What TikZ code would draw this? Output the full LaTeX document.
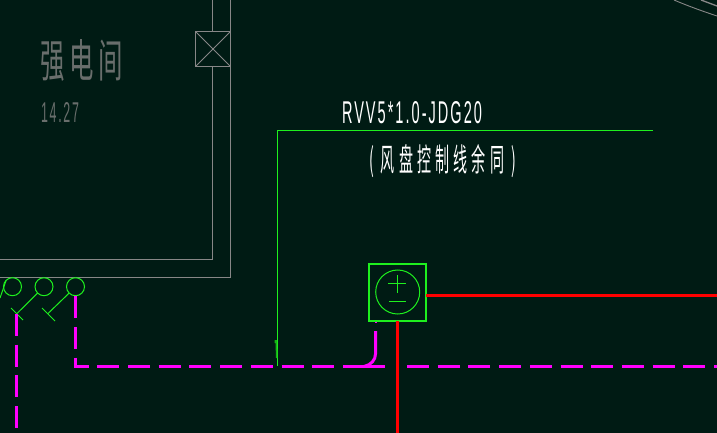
\documentclass[tikz,border=0pt]{standalone}
\usepackage{graphicx}
\usepackage{fontspec}
\setmainfont{Liberation Sans}
\newfontfamily\cjk{Noto Sans CJK SC}
\newfontfamily\spaced[LetterSpace=14]{Liberation Sans}
\definecolor{bgc}{RGB}{0,27,20}
\definecolor{wallc}{RGB}{135,135,135}
\definecolor{textc}{RGB}{105,110,108}
\definecolor{devc}{RGB}{30,240,30}
\definecolor{magc}{RGB}{255,0,255}
\tikzset{
  x=1pt,y=-1pt,
  wall/.style={draw=wallc,line width=0.9pt},
  dev/.style={draw=devc,line width=1pt},
  magline/.style={draw=magc,line width=3pt,dash pattern=on 22pt off 8.7pt},
  magsolid/.style={draw=magc,line width=3pt},
  redline/.style={draw=red,line width=3pt},
  lamp/.style={circle,draw=devc,line width=1pt,inner sep=0pt,minimum size=18pt},
  lbl/.style={inner sep=0pt,outer sep=0pt,anchor=north west},
}
\newcommand{\fit}[3]{\resizebox{#1pt}{#2pt}{#3}}
\begin{document}
\begin{tikzpicture}
\useasboundingbox (0,0) rectangle (717,433);
\fill[bgc] (0,0) rectangle (717,433);
% walls
\draw[wall] (212.5,0) -- (212.5,31.5);
\draw[wall] (212.5,66.5) -- (212.5,259.5) -- (0,259.5);
\draw[wall] (230.5,0) -- (230.5,277.5) -- (0,277.5);
\node[wall,minimum size=35pt,inner sep=0pt,outer sep=0pt] (shaft) at (213,49) {};
\draw[wall] (shaft.north west) -- (shaft.south east);
\draw[wall] (shaft.north east) -- (shaft.south west);
% arcs top right
\draw[wall] (674,0) .. controls (688,6) and (702,11) .. (717,16);
\draw[wall,line width=1.3pt] (701,0) -- (717,6);
% labels
\node[lbl,text=textc,font=\cjk] (room) at (40,39) {\fit{83}{38}{强\hspace{0.2em}电\hspace{0.2em}间}};
\node[lbl,text=textc,font=\spaced] (area) at (41,103) {\fit{38}{20}{14.27}};
\node[lbl,text=white,font=\spaced] (cable) at (342,101) {\fit{140}{22}{RVV5*1.0-JDG20}};
\node[lbl,text=white,font=\cjk] (note) at (369,144) {\fit{147}{27}{(\hspace{0.5em}风\hspace{0.3em}盘\hspace{0.3em}控\hspace{0.3em}制\hspace{0.3em}线\hspace{0.3em}余\hspace{0.3em}同\hspace{0.5em})}};
% lamps
\node[lamp] (c1) at (12.5,286.7) {};
\node[lamp] (c2) at (44,286.7) {};
\node[lamp] (c3) at (75.5,286.7) {};
\coordinate (t2) at (17,313.5);
\coordinate (t3) at (48,313.5);
\coordinate (c0) at (0,298);
\draw[dev] (c1) ++(-135:9) -- (c0);
\draw[dev] (c2) ++(135:9) -- (t2);
\draw[dev] (c3) ++(135:9) -- (t3);
\draw[dev] (11,308) -- (23,320);
\draw[dev] (42,308) -- (55,321);
% magenta lines
\coordinate (j1) at (75.5,366.5);
\draw[magline] (16.5,314) -- (16.5,433);
\draw[magline] (c3.south) -- (j1) -- (352,366.5);
\draw[magsolid] (352,366.5) -- (385,366.5);
\draw[magline] (407,366.5) -- (717,366.5);
\draw[magsolid] (375.5,331) -- (375.5,354) .. controls (375.5,360) and (371,365) .. (364,366.5);
\fill[magc] (375,321) rectangle (376.5,323);
% controller
\node[draw=devc,line width=2.3pt,minimum size=57pt,inner sep=0pt,outer sep=0pt] (fc) at (397.5,292.5) {};
\node[lamp,minimum size=44pt] (fci) at (397.7,292) {};
\draw[dev] (388,283.7) -- (406,283.7);
\draw[dev] (397.3,275) -- (397.3,292.5);
\draw[dev] (389,301.3) -- (406,301.3);
% red lines
\draw[redline] (fc.east |- 0,295.5) -- (717,295.5);
\draw[redline] (fc.south -| 397.5,0) -- (397.5,433);
% leader
\coordinate (l1) at (652.5,130.5);
\coordinate (l2) at (277.5,130.5);
\coordinate (l3) at (277.5,366);
\draw[dev] (l1) -- (l2) -- (l3);
\fill[devc!75!black] (274.5,340) -- (277,340) -- (277.5,358) -- (276,358) -- (275.5,343) -- (274.5,343) -- cycle;
\end{tikzpicture}
\end{document}
